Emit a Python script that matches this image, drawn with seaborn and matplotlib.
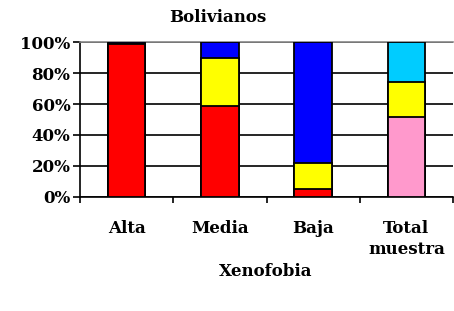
import numpy as np
import pandas as pd
import matplotlib
matplotlib.use("Agg")
import matplotlib.pyplot as plt
import seaborn as sns

# Datos (porcentajes por nivel de xenofobia)
categorias = ["Alta", "Media", "Baja", "Total\nmuestra"]
seg_inferior = [98.9, 58.9, 4.8, 51.4]
seg_medio = [0.0, 30.7, 16.8, 23.1]
seg_superior = [1.1, 10.4, 78.4, 25.5]

col_inferior = ["#FF0000", "#FF0000", "#FF0000", "#FF99CC"]
col_medio = ["#FFFF00", "#FFFF00", "#FFFF00", "#FFFF00"]
col_superior = ["#0000FF", "#0000FF", "#0000FF", "#00CCFF"]

sns.set_style("white")
plt.rcParams["font.family"] = ["DejaVu Serif"]
plt.rcParams["font.weight"] = "bold"
plt.rcParams["text.color"] = "black"
plt.rcParams["xtick.color"] = "black"
plt.rcParams["ytick.color"] = "black"

fig = plt.figure(figsize=(4.54, 3.11), dpi=100)
ax = fig.add_axes([80 / 454, 1 - 196.7 / 311, 373 / 454, 154.4 / 311])

acum1 = np.array(seg_inferior)
acum2 = acum1 + np.array(seg_medio)
acum3 = acum2 + np.array(seg_superior)

# barras apiladas: se dibujan de la mas alta a la mas baja
for alturas, cols in [(acum3, col_superior), (acum2, col_medio), (acum1, col_inferior)]:
    df = pd.DataFrame({"cat": categorias, "val": alturas})
    sns.barplot(data=df, x="cat", y="val", hue="cat", palette=cols, legend=False,
                width=0.4, edgecolor="black", linewidth=1.3, saturation=1, ax=ax, zorder=3)

ax.set_xlim(-0.5, 3.5)
ax.set_ylim(0, 100)
ax.set_yticks([0, 20, 40, 60, 80, 100])
ax.set_yticklabels(["0%", "20%", "40%", "60%", "80%", "100%"], fontsize=12, fontweight="bold")
ax.set_xticks(range(4))
ax.set_xticklabels(categorias, fontsize=12, fontweight="bold", linespacing=1.25)
ax.set_xticks([-0.5, 0.5, 1.5, 2.5, 3.5], minor=True)
ax.tick_params(axis="x", which="major", bottom=True, length=0, pad=17)
ax.tick_params(axis="x", which="minor", bottom=True, length=4, width=1.2, color="black", direction="out")
ax.tick_params(axis="y", left=True, length=5, width=1.2, color="black", direction="out", pad=2)

ax.set_axisbelow(True)
ax.yaxis.grid(True, color="black", linewidth=1.2)
ax.set_xlabel("")
ax.set_ylabel("")
ax.spines["right"].set_visible(False)
ax.spines["top"].set_color("#888888")
ax.spines["top"].set_linewidth(1.2)
ax.spines["left"].set_color("black")
ax.spines["left"].set_linewidth(1.2)
ax.spines["bottom"].set_color("black")
ax.spines["bottom"].set_linewidth(1.2)

fig.text(0.48, 1 - 18 / 311, "Bolivianos", ha="center", va="center", fontsize=12, fontweight="bold")
fig.text(266 / 454, 1 - 272 / 311, "Xenofobia", ha="center", va="center", fontsize=12, fontweight="bold")

fig.savefig("out.png", dpi=100)
